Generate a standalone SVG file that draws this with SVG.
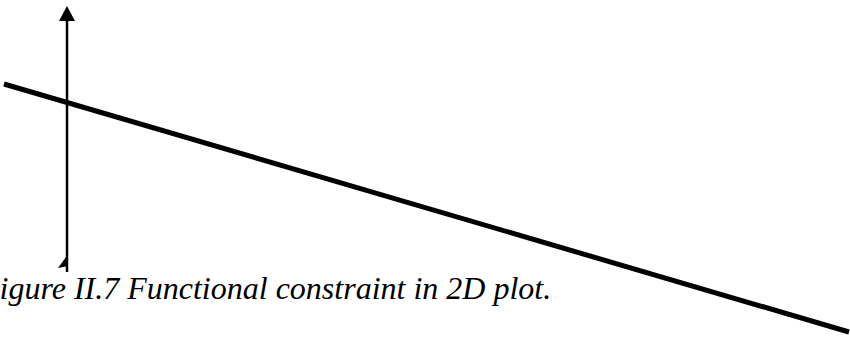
<svg xmlns="http://www.w3.org/2000/svg" width="850" height="341" viewBox="0 0 850 341">
<style>
.axis{stroke:#000;stroke-width:2.5;fill:none}
.constraint{stroke:#000;stroke-width:5;fill:none}
.head{fill:#000;stroke:none}
.caption{font-family:"Liberation Serif","Times New Roman",serif;font-style:italic;font-size:32px;fill:#000}
</style>
<rect width="850" height="341" fill="#fff"/>
<g id="connectors">
<g id="y-axis">
<line class="axis" x1="67" y1="18" x2="67" y2="272"/>
<polygon class="head" points="67,6 59,21 75,21"/>
<polygon class="head" points="66,257 58,268 68,266"/>
</g>
<line id="constraint-line" class="constraint" x1="4" y1="84" x2="849" y2="332"/>
</g>
<text class="caption" x="-20" y="299">Figure II.7 Functional constraint in 2D plot.</text>
</svg>
